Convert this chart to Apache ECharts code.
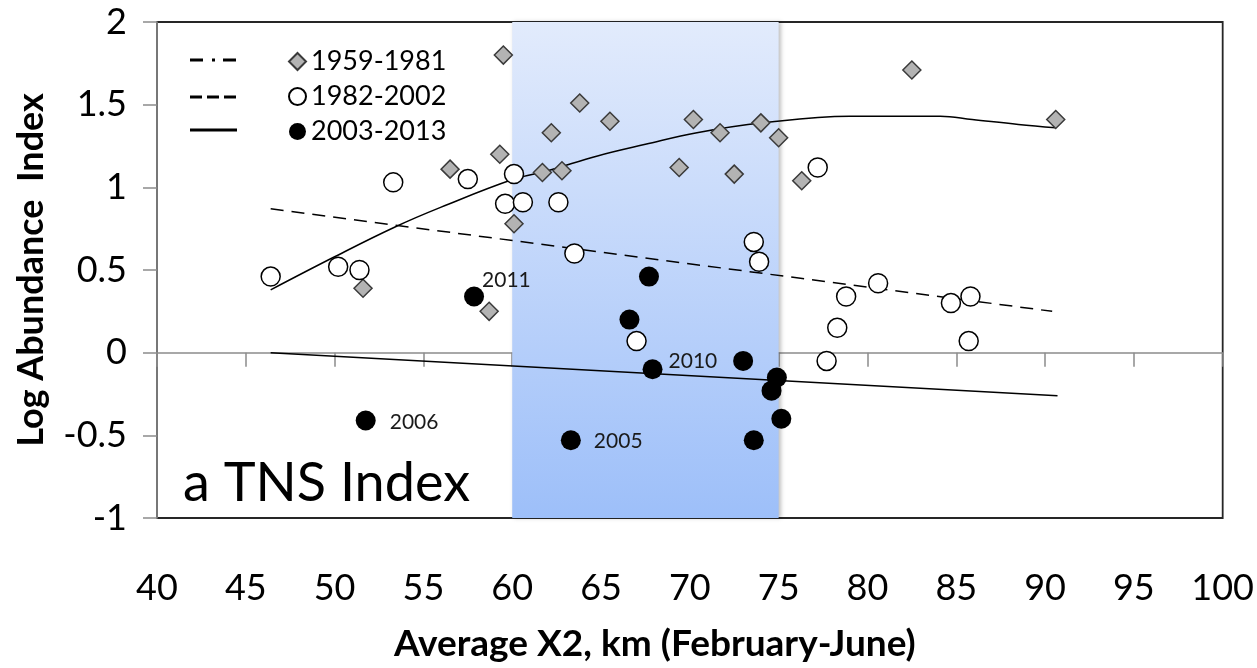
<!DOCTYPE html>
<html>
<head>
<meta charset="utf-8">
<script src="https://cdn.jsdelivr.net/npm/echarts@6/dist/echarts.min.js"></script>
<style>
html,body{margin:0;padding:0;background:#fff;}
#chart{width:1257px;height:668px;}
</style>
</head>
<body>
<div id="chart"></div>
<script>
// ---- Data ----
const xTicks = {min: 40, max: 100, interval: 5};
const yTicks = {min: -1, max: 2, interval: 0.5};
const shadeRange = [60, 75];

// 1959-1981 (grey diamonds)
const earlyX = [59.5, 63.8, 62.2, 59.3, 56.5, 61.7, 62.8, 60.1, 51.6, 58.7, 65.5, 70.2, 71.7, 74.0, 75.0, 69.4, 72.5, 76.3, 82.5, 90.6];
const earlyY = [1.80, 1.51, 1.33, 1.20, 1.11, 1.09, 1.10, 0.78, 0.39, 0.25, 1.40, 1.41, 1.33, 1.39, 1.30, 1.12, 1.08, 1.04, 1.71, 1.41];

// 1982-2002 (open circles)
const midX = [53.3, 57.5, 60.1, 59.6, 60.6, 62.6, 63.5, 46.4, 50.2, 51.4, 73.6, 73.9, 77.2, 80.6, 78.8, 67.0, 78.3, 77.7, 84.7, 85.8, 85.7];
const midY = [1.03, 1.05, 1.08, 0.90, 0.91, 0.91, 0.60, 0.46, 0.52, 0.50, 0.67, 0.55, 1.12, 0.42, 0.34, 0.07, 0.15, -0.05, 0.30, 0.34, 0.07];

// 2003-2013 (filled circles)
const lateX = [57.85, 51.75, 67.7, 66.6, 67.9, 73.0, 74.9, 74.6, 75.15, 73.6, 63.3];
const lateY = [0.34, -0.41, 0.46, 0.20, -0.10, -0.05, -0.15, -0.23, -0.40, -0.53, -0.53];
const lateLabels = ['2011', '2006', '', '', '2010', '', '', '', '', '', '2005'];

// Trend lines
const curveX = [46.4, 50.0, 53.4, 56.0, 60.1, 62.0, 64.8, 67.5, 70.4, 74.1, 79.0, 81.6, 84.1, 85.9, 88.5, 90.6];
const curveY = [0.38, 0.58, 0.76, 0.88, 1.05, 1.10, 1.19, 1.26, 1.33, 1.39, 1.43, 1.43, 1.43, 1.41, 1.38, 1.36];
const dashX = [46.4, 90.4];
const dashY = [0.87, 0.25];
const solidX = [46.4, 90.7];
const solidY = [0.00, -0.26];

const seriesNames = ['1959-1981', '1982-2002', '2003-2013'];
const xTitle = 'Average X2, km (February-June)';
const yTitle = 'Log Abundance  Index';
const panelTitle = 'a TNS Index';

// ---- Styles ----
const FONT = 'Lato, "Open Sans", sans-serif';
const labelStyle = {
  '2011': {distance: 0, offset: [-2, -16]},
  '2006': {distance: 14, offset: [0, 2]},
  '2005': {distance: 13, offset: [0, 1]},
  '2010': {distance: 6, offset: [0, -8]}
};

const zip = (xs, ys) => xs.map((x, i) => [x, ys[i]]);

const lateData = lateX.map((x, i) => {
  const lab = lateLabels[i];
  const item = {value: [x, lateY[i]]};
  if (lab) {
    item.label = Object.assign({
      show: true, position: 'right', formatter: lab,
      fontSize: 21, color: '#1a1a1a', fontFamily: FONT
    }, labelStyle[lab]);
  }
  return item;
});

const chart = echarts.init(document.getElementById('chart'), null, {renderer: 'canvas'});
const axisGrey = '#8c8c8c';

chart.setOption({
  animation: false,
  backgroundColor: '#fff',
  textStyle: {fontFamily: FONT},
  grid: {left: 157, right: 30, top: 22, bottom: 146, show: true, borderColor: '#262626', borderWidth: 1.8, backgroundColor: 'transparent'},
  title: {
    text: panelTitle, left: 178, top: 452,
    textStyle: {fontSize: 54, fontWeight: 'normal', color: '#000', fontFamily: FONT}
  },
  legend: {
    data: seriesNames, orient: 'vertical', left: 283, top: 40,
    itemWidth: 17, itemHeight: 17, itemGap: 2, itemTextGap: 8,
    textStyle: {fontSize: 27, lineHeight: 33, color: '#000', fontFamily: FONT},
    selectedMode: false
  },
  graphic: [
    {type: 'line', shape: {x1: 190, y1: 60, x2: 237, y2: 60}, style: {stroke: '#000', lineWidth: 3, lineDash: [13, 9, 3, 8]}},
    {type: 'line', shape: {x1: 190, y1: 97, x2: 237, y2: 97}, style: {stroke: '#000', lineWidth: 3, lineDash: [12, 5]}},
    {type: 'line', shape: {x1: 190, y1: 130, x2: 237, y2: 130}, style: {stroke: '#000', lineWidth: 3}}
  ],
  xAxis: {
    type: 'value', min: xTicks.min, max: xTicks.max, interval: xTicks.interval,
    name: xTitle, nameLocation: 'middle', nameGap: 108,
    nameTextStyle: {fontSize: 37, fontWeight: 'bold', color: '#000', fontFamily: FONT, padding: [0, 70, 0, 0]},
    axisLine: {lineStyle: {color: axisGrey, width: 1.5}},
    axisTick: {show: true, inside: false, length: 14, lineStyle: {color: axisGrey, width: 1.5}},
    axisLabel: {fontSize: 36, color: '#000', margin: 52, fontFamily: FONT},
    splitLine: {show: false}
  },
  yAxis: {
    type: 'value', min: yTicks.min, max: yTicks.max, interval: yTicks.interval,
    name: yTitle, nameLocation: 'middle', nameGap: 108,
    nameTextStyle: {fontSize: 36, fontWeight: 'bold', color: '#000', fontFamily: FONT},
    axisLine: {show: true, lineStyle: {color: axisGrey, width: 1.5}},
    axisTick: {show: true, inside: false, length: 14, lineStyle: {color: axisGrey, width: 1.5}},
    axisLabel: {fontSize: 36, color: '#000', margin: 30, fontFamily: FONT},
    splitLine: {show: false}
  },
  series: [
    {
      name: 'shade', type: 'scatter', data: [], z: 0, silent: true,
      markArea: {
        silent: true,
        itemStyle: {
          color: new echarts.graphic.LinearGradient(0, 0, 0, 1, [
            {offset: 0, color: '#e2ebfc'},
            {offset: 1, color: '#9dbff9'}
          ]),
          shadowColor: 'rgba(0,0,0,0.25)', shadowBlur: 4, shadowOffsetX: 2
        },
        data: [[{xAxis: shadeRange[0], yAxis: yTicks.max}, {xAxis: shadeRange[1], yAxis: yTicks.min}]]
      }
    },
    {
      name: 'curve', type: 'line', data: zip(curveX, curveY), smooth: 0.4, symbol: 'none', z: 2,
      lineStyle: {color: '#000', width: 1.5}, silent: true
    },
    {
      name: 'dash', type: 'line', data: zip(dashX, dashY), symbol: 'none', z: 2,
      lineStyle: {color: '#000', width: 1.5, type: [13, 8]}, silent: true
    },
    {
      name: 'solid', type: 'line', data: zip(solidX, solidY), symbol: 'none', z: 2,
      lineStyle: {color: '#000', width: 1.5}, silent: true
    },
    {
      name: seriesNames[0], type: 'scatter', symbol: 'diamond', symbolSize: 18, z: 3,
      data: zip(earlyX, earlyY),
      itemStyle: {color: '#b3b3b3', borderColor: '#3a3a3a', borderWidth: 1.5, opacity: 1}
    },
    {
      name: seriesNames[1], type: 'scatter', symbol: 'circle', symbolSize: 19, z: 4,
      data: zip(midX, midY),
      itemStyle: {color: '#ffffff', borderColor: '#000', borderWidth: 1.5, opacity: 1}
    },
    {
      name: seriesNames[2], type: 'scatter', symbol: 'circle', symbolSize: 20, z: 5,
      data: lateData,
      itemStyle: {color: '#000', borderColor: '#000', borderWidth: 0, opacity: 1}
    }
  ]
});
</script>
</body>
</html>
